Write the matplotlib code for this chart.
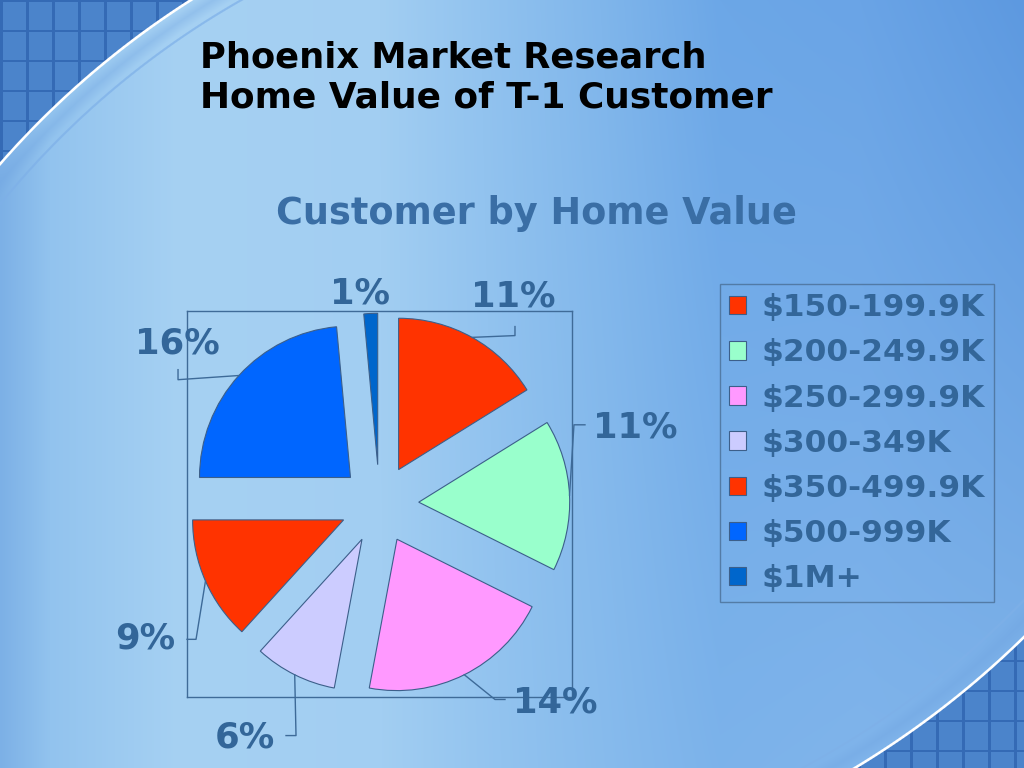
import numpy as np
import matplotlib
matplotlib.use("Agg")
import matplotlib.pyplot as plt
import matplotlib.colors as mcolors

# ---------------- data ----------------
categories = ["$150-199.9K", "$200-249.9K", "$250-299.9K", "$300-349K",
              "$350-499.9K", "$500-999K", "$1M+"]
values = [11, 11, 14, 6, 9, 16, 1]
pct_labels = ["11%", "11%", "14%", "6%", "9%", "16%", "1%"]
colors = ["#ff3300", "#99ffcc", "#ff99ff", "#ccccff", "#ff3300", "#0066ff", "#0066cc"]

title_lines = ["Phoenix Market Research", "Home Value of T-1 Customer"]
subtitle = "Customer by Home Value"

W, H = 1024, 768
fig = plt.figure(figsize=(W / 100, H / 100), dpi=100)

# ---------------- background ----------------
bg = fig.add_axes([0, 0, 1, 1], zorder=0)
bg.set_xlim(0, W)
bg.set_ylim(H, 0)
bg.axis("off")

X, Y = np.meshgrid(np.arange(W) + 0.5, np.arange(H) + 0.5)
stops_x = [0, 50, 180, 380, 480, 600, 720, 860, 1024]
stops_c = ["#7cb0e6", "#92c3ee", "#a6d1f3", "#a2cef2", "#92c3ef", "#80b6eb",
           "#6ca7e7", "#6aa4e6", "#5d99e0"]
rgb = np.array([mcolors.to_rgb(c) for c in stops_c])
img = np.zeros((H, W, 3))
for k in range(3):
    img[:, :, k] = np.interp(X, stops_x, rgb[:, k])
light = np.array(mcolors.to_rgb("#a9d3f4"))
t = (Y / H) * 0.45 * np.clip((X - 300) / 724, 0, 1)
img = img * (1 - t[..., None]) + light * t[..., None]

def blend(mask_alpha, col):
    global img
    c = np.array(mcolors.to_rgb(col))
    a = np.clip(mask_alpha, 0, 1)[..., None]
    img = img * (1 - a) + c * a

corners = [((665, 745), 883, (X < 420) & (Y < 420)),
           ((380, -20), 920, (X > 600) & (Y > 380))]
for (cx, cy), R, box in corners:
    d = np.hypot(X - cx, Y - cy)
    outside = np.clip(d - R, 0, 1) * box
    grid = (((X % 26) < 3) | ((Y % 30) < 2)).astype(float)
    blend(outside, "#4b84cb")
    blend(outside * grid * 0.8, "#2f64b0")
    band = np.clip(1 - np.abs(d - (R - 12)) / 10, 0, 1) * box
    blend(band * 0.35, "#6fa3e0")
    blend(np.clip(1.6 - np.abs(d - (R - 26)), 0, 1) * box * 0.7, "#7eb0e8")
    blend(np.clip(1.8 - np.abs(d - R), 0, 1) * box, "#ffffff")

bg.imshow(img, extent=(0, W, H, 0), aspect="auto", interpolation="nearest")

# ---------------- titles ----------------
renderer = fig.canvas.get_renderer()

def fitted_text(x, y, s, target_w, **kw):
    t = fig.text(x, y, s, fontsize=30, **kw)
    w = t.get_window_extent(renderer).width
    t.set_fontsize(30 * target_w / w)
    return t

fitted_text(200 / W, 1 - 67 / H, title_lines[0], 506, fontweight="bold",
            family="DejaVu Sans", color="black", ha="left", va="baseline")
fitted_text(200 / W, 1 - 108 / H, title_lines[1], 572, fontweight="bold",
            family="DejaVu Sans", color="black", ha="left", va="baseline")
fitted_text(536 / W, 1 - 224 / H, subtitle, 520, fontweight="bold",
            family="DejaVu Sans", color="#3a6ea5", ha="center", va="baseline")

# ---------------- pie ----------------
ax = fig.add_axes([187 / W, 1 - 697 / H, 385 / W, 386 / H], zorder=2)
ax.patch.set_alpha(0)
wedges, _ = ax.pie(values, colors=colors, startangle=90, counterclock=False,
                   explode=[0.26] * len(values), radius=1,
                   wedgeprops=dict(edgecolor="#3c5f8a", linewidth=0.8))
lim = 1.275
ax.set_xlim(-lim, lim)
ax.set_ylim(-lim, lim)
ax.set_aspect("auto")
ax.set_frame_on(True)
for s in ax.spines.values():
    s.set_color("#3f6b98")
    s.set_linewidth(1.0)
ax.set_xticks([])
ax.set_yticks([])

def px(p):
    return ((p[0] - 379.5) / 151.0, (504 - p[1]) / 151.0)

label_pos = [(513, 297), (635, 428), (555, 702), (245, 737), (145, 638),
             (177, 344), (360, 294)]
leader_pts = [
    [(515, 336), (515, 327)],
    [(574, 425), (585, 425)],
    [(495, 699), (505, 699)],
    [(296, 735), (286, 735)],
    [(196, 639), (187, 639)],
    [(178, 380), (178, 370)],
    None,
]
lc = "#3d6a98"
for w, lab, pos, pts in zip(wedges, pct_labels, label_pos, leader_pts):
    mid = np.deg2rad(0.5 * (w.theta1 + w.theta2))
    cx, cy = w.center
    sx, sy = cx + w.r * np.cos(mid), cy + w.r * np.sin(mid)
    if pts is not None:
        seq = [(sx, sy)] + [px(p) for p in pts]
        ax.plot([p[0] for p in seq], [p[1] for p in seq], color=lc, lw=1.0,
                clip_on=False, zorder=3)
    tx, ty = px(pos)
    ax.text(tx, ty, lab, fontsize=25.5, fontweight="bold", color="#336699",
            ha="center", va="center", clip_on=False, family="DejaVu Sans")

# ---------------- legend ----------------
leg = fig.legend(wedges, categories, loc="upper left",
                 bbox_to_anchor=(720 / W, 1 - 284 / H), borderaxespad=0,
                 frameon=True, fancybox=False, shadow=False,
                 prop=dict(family="DejaVu Sans", weight="bold", size=22.5),
                 labelcolor="#336699", handlelength=0.52, handleheight=0.52,
                 handletextpad=0.5, labelspacing=0.515, borderpad=0.3)
leg.get_frame().set_edgecolor("#4a6f96")
leg.get_frame().set_facecolor("none")
leg.get_frame().set_linewidth(1.0)
leg.set_zorder(5)

fig.savefig("out.png", dpi=100)
